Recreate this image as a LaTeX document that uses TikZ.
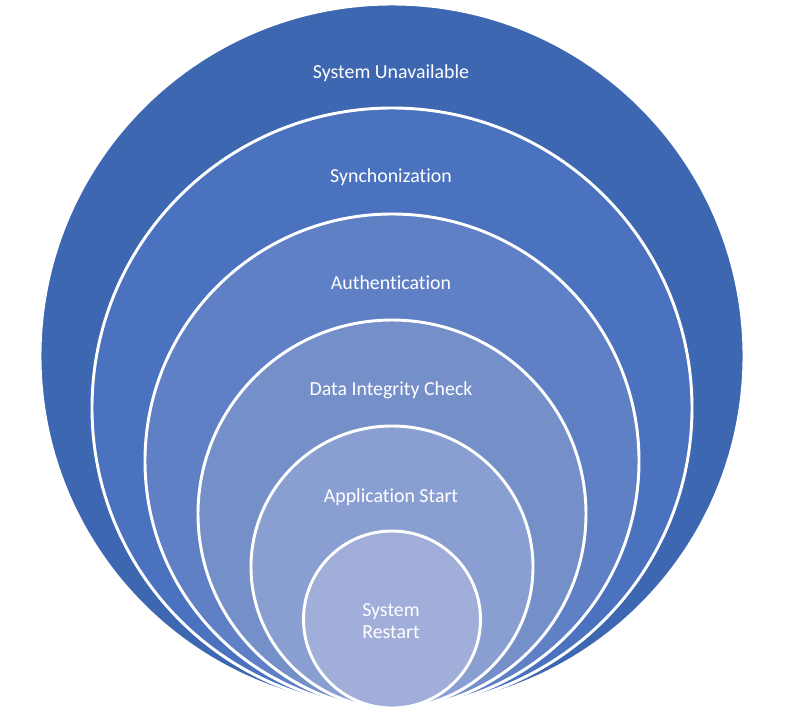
\documentclass[tikz,border=0pt]{standalone}
\usepackage{fontspec}
\setmainfont{Carlito}[Ligatures={NoCommon}]
\usetikzlibrary{calc}
\definecolor{ringA}{HTML}{3E67B1}
\definecolor{ringB}{HTML}{4A72BF}
\definecolor{ringC}{HTML}{6080C6}
\definecolor{ringD}{HTML}{7590C9}
\definecolor{ringE}{HTML}{8A9FD1}
\definecolor{ringF}{HTML}{A0AED9}
\tikzset{
  ring/.style={draw=white, line width=2.2pt},
  lab/.style={text=white, font=\fontsize{14.9}{16.5}\selectfont, align=center, inner sep=0pt}
}
\begin{document}
\begin{tikzpicture}[x=0.75pt,y=-0.75pt]
  \useasboundingbox (0,0) rectangle (790,718);
  % nested rings, all touching at the bottom
  \coordinate (base) at (392,708);
  \foreach \r/\c in {352/ringA, 300/ringB, 247/ringC, 194/ringD, 141/ringE, 88.5/ringF}
    \draw[ring, fill=\c] ($(base)+(0,-\r)$) circle [radius=\r*0.75pt];

  \node[lab] (unavail) at (391,73) {System Unavailable};
  \node[lab] (sync) at (391,177) {Synchonization};
  \node[lab] (auth) at (391,283) {Authentication};
  \node[lab] (check) at (391,390) {Data Integrity Check};
  \node[lab] (appstart) at (391,497) {Application Start};
  \node[lab] (restart) at (391,621) {System\\Restart};
\end{tikzpicture}
\end{document}
